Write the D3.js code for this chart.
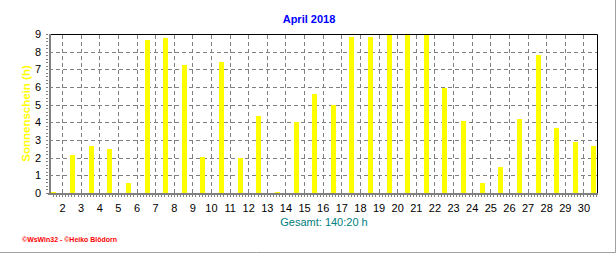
<!DOCTYPE html>
<html>
<head>
<meta charset="utf-8">
<script src="https://cdn.jsdelivr.net/npm/d3@7"></script>
<style>
  body { margin: 0; background: #fff; }
  svg { display: block; font-family: "Liberation Sans", Arial, sans-serif; }
</style>
</head>
<body>
<div id="chart"></div>
<script>
// Sunshine hours per day, April 2018
var days = d3.range(1, 31);
var sunHours = [0, 2.17, 2.68, 2.47, 0.57, 8.68, 8.79, 7.26, 2.02, 7.39,
                2.0, 4.34, 0, 4.03, 5.62, 5.0, 8.85, 8.85, 9.0, 8.96,
                8.96, 5.94, 4.08, 0.55, 1.5, 4.2, 7.83, 3.7, 2.87, 2.68];
var yTicks = d3.range(0, 10);
var titleText = "April 2018";
var yLabel = "Sonnenschein (h)";
var totalText = "Gesamt: 140:20 h";
var footerText = "\u00a9WsWin32 - \u00a9Heiko Blödorn";

var width = 616, height = 253;
// plot box (note: "top" is reserved on window, so use p-prefixed names)
var pLeft = 49, pRight = 597, pTop = 34, pBottom = 193;

var svg = d3.select("#chart").append("svg")
  .attr("width", width)
  .attr("height", height);

// time axis in days since 1 April 00:00, a bit clipped at both ends
var x = d3.scaleLinear().domain([0.3, 29.73]).range([pLeft, pRight]);
var y = d3.scaleLinear().domain([0, 9]).range([pBottom, pTop]);

// dashed grid
svg.append("g")
  .attr("transform", "translate(0," + pBottom + ")")
  .call(d3.axisBottom(x).tickValues(d3.range(1, 30)).tickSize(-(pBottom - pTop)).tickFormat(""))
  .call(function(g) {
    g.select(".domain").remove();
    g.selectAll("line").attr("stroke", "#808080").attr("stroke-dasharray", "4,3")
      .attr("shape-rendering", "crispEdges");
  });
svg.append("g")
  .attr("transform", "translate(" + pLeft + ",0)")
  .call(d3.axisLeft(y).tickValues(d3.range(1, 9)).tickSize(-(pRight - pLeft)).tickFormat(""))
  .call(function(g) {
    g.select(".domain").remove();
    g.selectAll("line").attr("stroke", "#808080").attr("stroke-dasharray", "4,3")
      .attr("shape-rendering", "crispEdges");
  });

// bars
svg.append("g").selectAll("rect")
  .data(days)
  .enter().append("rect")
  .attr("x", function(d) { return Math.round(x(d - 1 + 0.565) - 2.5); })
  .attr("width", 5)
  .attr("y", function(d, i) { return y(sunHours[i]) - (sunHours[i] === 0 ? 1 : 0); })
  .attr("height", function(d, i) { return Math.max(1, pBottom - y(sunHours[i])); })
  .attr("fill", "#ffff00")
  .attr("shape-rendering", "crispEdges");

// top and right frame
svg.append("path")
  .attr("d", "M" + pLeft + "," + (pTop + 0.5) + "H" + (pRight + 0.5) + "V" + pBottom)
  .attr("fill", "none")
  .attr("stroke", "#000");

// minor ticks
var minorX = d3.range(0, 180).map(function(k) { return k / 6; })
  .filter(function(t) { return t > 0.35 && t < 29.7; });
svg.append("g")
  .attr("transform", "translate(0," + (pBottom + 2) + ")")
  .call(d3.axisBottom(x).tickValues(minorX).tickSize(2).tickFormat(""))
  .call(function(g) {
    g.select(".domain").remove();
    g.selectAll("line").attr("stroke", "#808080").attr("shape-rendering", "crispEdges");
  });
var minorY = d3.range(0, 46).map(function(k) { return k / 5; });
svg.append("g")
  .attr("transform", "translate(" + (pLeft - 1) + ",0)")
  .call(d3.axisLeft(y).tickValues(minorY).tickSize(2).tickFormat(""))
  .call(function(g) {
    g.select(".domain").remove();
    g.selectAll("line").attr("stroke", "#808080").attr("shape-rendering", "crispEdges");
  });

// thick gray axes
svg.append("line")
  .attr("x1", pLeft - 1).attr("x2", pRight + 1)
  .attr("y1", pBottom + 1).attr("y2", pBottom + 1)
  .attr("stroke", "#808080").attr("stroke-width", 2);
svg.append("line")
  .attr("x1", pLeft + 1).attr("x2", pLeft + 1)
  .attr("y1", pTop).attr("y2", pBottom + 2)
  .attr("stroke", "#808080").attr("stroke-width", 2);

// tick labels
svg.append("g")
  .attr("transform", "translate(0," + pBottom + ")")
  .call(d3.axisBottom(x).tickValues(d3.range(1, 30)).tickSize(0).tickPadding(11.5)
    .tickFormat(function(t) { return t + 1; }))
  .call(function(g) {
    g.select(".domain").remove();
    g.selectAll("text").attr("font-size", 11).attr("font-family", "Liberation Sans, Arial").attr("fill", "#000");
  });
svg.append("g")
  .attr("transform", "translate(" + pLeft + ",0)")
  .call(d3.axisLeft(y).tickValues(yTicks).tickSize(0).tickPadding(8))
  .call(function(g) {
    g.select(".domain").remove();
    g.selectAll("text").attr("font-size", 11).attr("font-family", "Liberation Sans, Arial").attr("fill", "#000");
  });

// title
svg.append("text")
  .attr("x", 309).attr("y", 22.5)
  .attr("text-anchor", "middle")
  .attr("font-size", 11).attr("font-weight", "bold")
  .attr("fill", "#0000ff")
  .text(titleText);

// y axis title
svg.append("text")
  .attr("transform", "translate(29.5,113.5)rotate(-90)")
  .attr("text-anchor", "middle")
  .attr("font-size", 11.5).attr("font-weight", "bold")
  .attr("fill", "#ffff00")
  .text(yLabel);

// total
svg.append("text")
  .attr("x", 324).attr("y", 226)
  .attr("text-anchor", "middle")
  .attr("font-size", 11)
  .attr("fill", "#008080")
  .text(totalText);

// footer
svg.append("text")
  .attr("x", 22).attr("y", 241.5)
  .attr("font-size", 7.5).attr("font-weight", "bold")
  .attr("fill", "#ff0000")
  .attr("textLength", 95).attr("lengthAdjust", "spacingAndGlyphs")
  .text(footerText);

// outer frame (right and bottom)
svg.append("path")
  .attr("d", "M615.5,0V252.5H0")
  .attr("fill", "none")
  .attr("stroke", "#a0a0a0");
</script>
</body>
</html>
